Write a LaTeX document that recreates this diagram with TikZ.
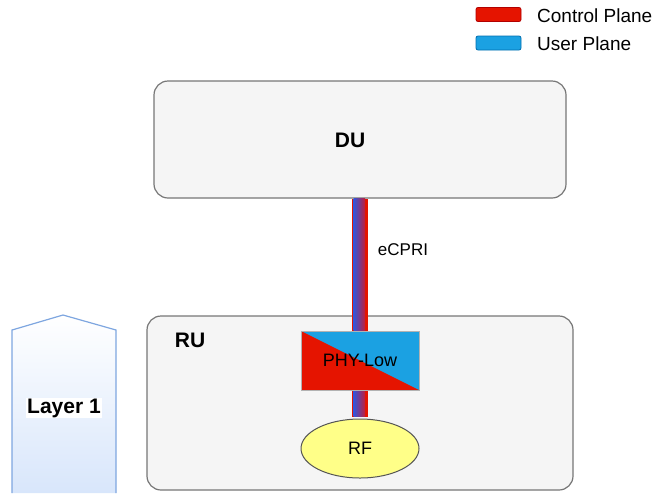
\documentclass[tikz,border=0pt]{standalone}
\usepackage{fontspec}
\setmainfont{Liberation Sans}
\usetikzlibrary{shapes.geometric,calc}

\definecolor{cpred}{HTML}{E51400}
\definecolor{cpredline}{HTML}{B20000}
\definecolor{upblue}{HTML}{1BA1E2}
\definecolor{upblueline}{HTML}{006EAF}
\definecolor{boxfill}{HTML}{F5F5F5}
\definecolor{boxline}{HTML}{777777}
\definecolor{rffill}{HTML}{FFFF88}
\definecolor{rfline}{HTML}{555555}
\definecolor{lonefill}{HTML}{D8E6FB}
\definecolor{loneline}{HTML}{7EA6E0}
\definecolor{linkblue}{RGB}{50,85,220}
\definecolor{linkmid}{RGB}{85,70,200}
\definecolor{linkred}{RGB}{190,30,60}

\pgfdeclarelayer{units}
\pgfdeclarelayer{links}
\pgfsetlayers{units,links,main}

\begin{document}
\begin{tikzpicture}[x=1pt,y=-1pt,
  unitbox/.style={draw=boxline, fill=boxfill, line width=1.2pt,
    rounded corners=14pt, inner sep=0pt},
  legendkey/.style={minimum width=45pt, minimum height=14pt,
    rounded corners=2pt, line width=0.8pt, inner sep=0pt},
  legendtext/.style={anchor=west, inner sep=0pt,
    font=\fontsize{19}{22}\selectfont},
  boldtext/.style={inner sep=0pt, font=\bfseries\fontsize{21}{24}\selectfont},
  plaintext/.style={inner sep=0pt, font=\fontsize{18}{21}\selectfont},
  linkouter/.style={fill=cpred},
  linkgrad/.style={left color=linkblue, middle color=linkmid, right color=linkred}
]
\useasboundingbox (0,0) rectangle (663,493);

% legend
\node[legendkey, draw=cpredline, fill=cpred] (keycp) at (498.5,14.5) {};
\node[legendtext] (txtcp) at (537,15.5) {Control Plane};
\node[legendkey, draw=upblueline, fill=upblue] (keyup) at (498.5,43) {};
\node[legendtext] (txtup) at (537,44) {User Plane};

% Layer 1 marker on the left
\shade[top color=white, bottom color=lonefill]
  (12,493) -- (12,330) -- (63,315) -- (116,330) -- (116,493) -- cycle;
\draw[loneline, line width=1.2pt]
  (12,493) -- (12,330) -- (63,315) -- (116,330) -- (116,493);
\node[boldtext, fill=white, inner sep=1pt] (layerone) at (64,408) {Layer 1};

% units
\begin{pgfonlayer}{units}
\node[unitbox, minimum width=412pt, minimum height=117pt] (du) at (360,139.5) {};
\node[unitbox, minimum width=426pt, minimum height=174pt] (ru) at (360,403) {};
\end{pgfonlayer}
\node[boldtext] (dulabel) at (350,140) {DU};
\node[boldtext] (rulabel) at (190,340) {RU};

% radio chain inside the RU
\node[minimum width=118pt, minimum height=59pt, inner sep=0pt,
  fill=upblue, draw=black!30, line width=0.5pt,
  path picture={\fill[cpred] (path picture bounding box.north west)
    -- (path picture bounding box.south east)
    -- (path picture bounding box.south west) -- cycle;}]
  (phy) at (360,360.5) {};
\node[plaintext] (phylabel) at (phy) {PHY-Low};
\node[ellipse, minimum width=118pt, minimum height=59pt, inner sep=0pt,
  fill=rffill, draw=rfline, line width=1pt] (rf) at (360,448.5) {};
\node[plaintext] (rflabel) at (rf) {RF};

% eCPRI link and internal link (control + user plane)
\begin{pgfonlayer}{links}
\fill[linkouter] ($(du.south)+(-8,0)$) rectangle ($(phy.north)+(8,0)$);
\shade[linkgrad] ($(du.south)+(-6.5,0)$) rectangle ($(phy.north)+(5,0)$);
\fill[linkouter] ($(phy.south)+(-8,0)$) rectangle ($(rf.north)+(8,-2)$);
\shade[linkgrad] ($(phy.south)+(-6.5,0)$) rectangle ($(rf.north)+(5,-2)$);
\end{pgfonlayer}
\node[plaintext, font=\fontsize{17}{20}\selectfont] (ecpri) at (403,250) {eCPRI};
\end{tikzpicture}
\end{document}
